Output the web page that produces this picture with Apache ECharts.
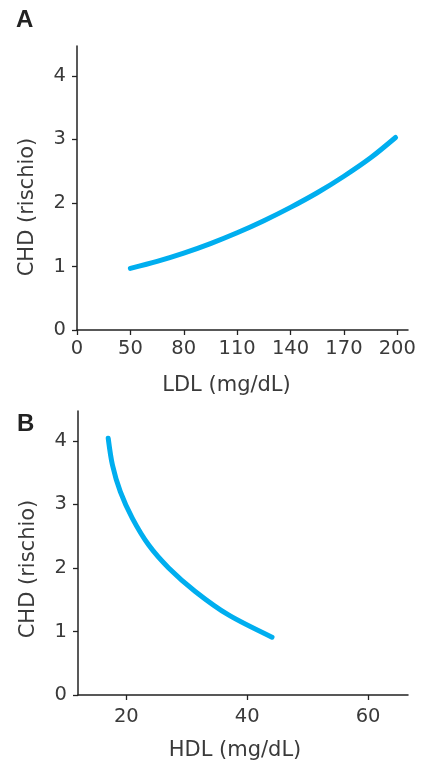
<!DOCTYPE html>
<html>
<head>
<meta charset="utf-8">
<script src="https://cdn.jsdelivr.net/npm/echarts@6/dist/echarts.min.js"></script>
<style>
html,body{margin:0;padding:0;background:#fff;}
#c{width:425px;height:763px;}
</style>
</head>
<body>
<div id="c"></div>
<script>
// Panel A: LDL vs CHD risk
var ldlX = [50, 65, 80, 95, 110, 125, 140, 155, 170, 185, 199];
var ldlRisk = [0.97, 1.08, 1.21, 1.36, 1.53, 1.72, 1.93, 2.16, 2.42, 2.71, 3.03];
var ldlTicks = [20, 50, 80, 110, 140, 170, 200];   // first tick position is labelled "0" (axis break)
var ldlTickLabels = ['0', '50', '80', '110', '140', '170', '200'];

// Panel B: HDL vs CHD risk
var hdlX = [17.0, 17.7, 19.0, 21.0, 23.7, 27.0, 31.4, 36.9, 44.1];
var hdlRisk = [4.04, 3.62, 3.20, 2.78, 2.36, 2.00, 1.63, 1.26, 0.91];
var hdlTicks = [20, 40, 60];

var yTicks = [0, 1, 2, 3, 4];

var FONT = 'DejaVu Sans';
var TXT = '#3a3a3a';
var AX = '#222';
var BLUE = '#00AEEF';

function pairs(xs, ys) { return xs.map(function (x, i) { return [x, ys[i]]; }); }

function yAxis(gi, nameShift) {
  return {
    type: 'value', gridIndex: gi, min: 0, max: 4.47,
    name: 'CHD (rischio)', nameLocation: 'middle', nameGap: 39,
    nameTextStyle: { fontFamily: FONT, fontSize: 21, color: TXT, padding: [0, nameShift, 0, 0] },
    axisLine: { show: true, lineStyle: { color: AX, width: 1.5 } },
    axisTick: { show: true, length: 5, customValues: yTicks, lineStyle: { color: AX, width: 1.3 } },
    axisLabel: { customValues: yTicks, margin: 11, fontFamily: FONT, fontSize: 19.5, color: TXT },
    splitLine: { show: false }
  };
}

var option = {
  animation: false,
  backgroundColor: '#fff',
  title: [
    { text: 'A', left: 11, top: 3, textStyle: { fontFamily: 'Liberation Sans', fontWeight: 'bold', fontSize: 24, color: '#222' } },
    { text: 'B', left: 12, top: 407, textStyle: { fontFamily: 'Liberation Sans', fontWeight: 'bold', fontSize: 24, color: '#222' } }
  ],
  grid: [
    { left: 77, top: 46, width: 331, height: 284 },
    { left: 78, top: 411, width: 330, height: 284 }
  ],
  xAxis: [
    {
      type: 'value', gridIndex: 0, min: 20, max: 206,
      name: 'LDL (mg/dL)', nameLocation: 'middle', nameGap: 45,
      nameTextStyle: { fontFamily: FONT, fontSize: 21, color: TXT, padding: [0, 32, 0, 0] },
      axisLine: { show: true, lineStyle: { color: AX, width: 1.5 } },
      axisTick: { show: true, length: 5, customValues: ldlTicks, lineStyle: { color: AX, width: 1.3 } },
      axisLabel: {
        customValues: ldlTicks, margin: 9, fontFamily: FONT, fontSize: 19.5, color: TXT,
        formatter: function (v) { var i = ldlTicks.indexOf(v); return i >= 0 ? ldlTickLabels[i] : ''; }
      },
      splitLine: { show: false }
    },
    {
      type: 'value', gridIndex: 1, min: 12, max: 66.6,
      name: 'HDL (mg/dL)', nameLocation: 'middle', nameGap: 45,
      nameTextStyle: { fontFamily: FONT, fontSize: 21, color: TXT, padding: [0, 16, 0, 0] },
      axisLine: { show: true, lineStyle: { color: AX, width: 1.5 } },
      axisTick: { show: true, length: 5, customValues: hdlTicks, lineStyle: { color: AX, width: 1.3 } },
      axisLabel: { customValues: hdlTicks, margin: 12, fontFamily: FONT, fontSize: 19.5, color: TXT },
      splitLine: { show: false }
    }
  ],
  yAxis: [yAxis(0, 38), yAxis(1, 32)],
  series: [
    {
      type: 'line', xAxisIndex: 0, yAxisIndex: 0, data: pairs(ldlX, ldlRisk),
      smooth: 0.3, showSymbol: false, symbol: 'none',
      lineStyle: { color: BLUE, width: 5, cap: 'round', join: 'round' }
    },
    {
      type: 'line', xAxisIndex: 1, yAxisIndex: 1, data: pairs(hdlX, hdlRisk),
      smooth: 0.3, showSymbol: false, symbol: 'none',
      lineStyle: { color: BLUE, width: 5, cap: 'round', join: 'round' }
    }
  ]
};

var chart = echarts.init(document.getElementById('c'), null, { renderer: 'canvas' });
chart.setOption(option);
</script>
</body>
</html>
